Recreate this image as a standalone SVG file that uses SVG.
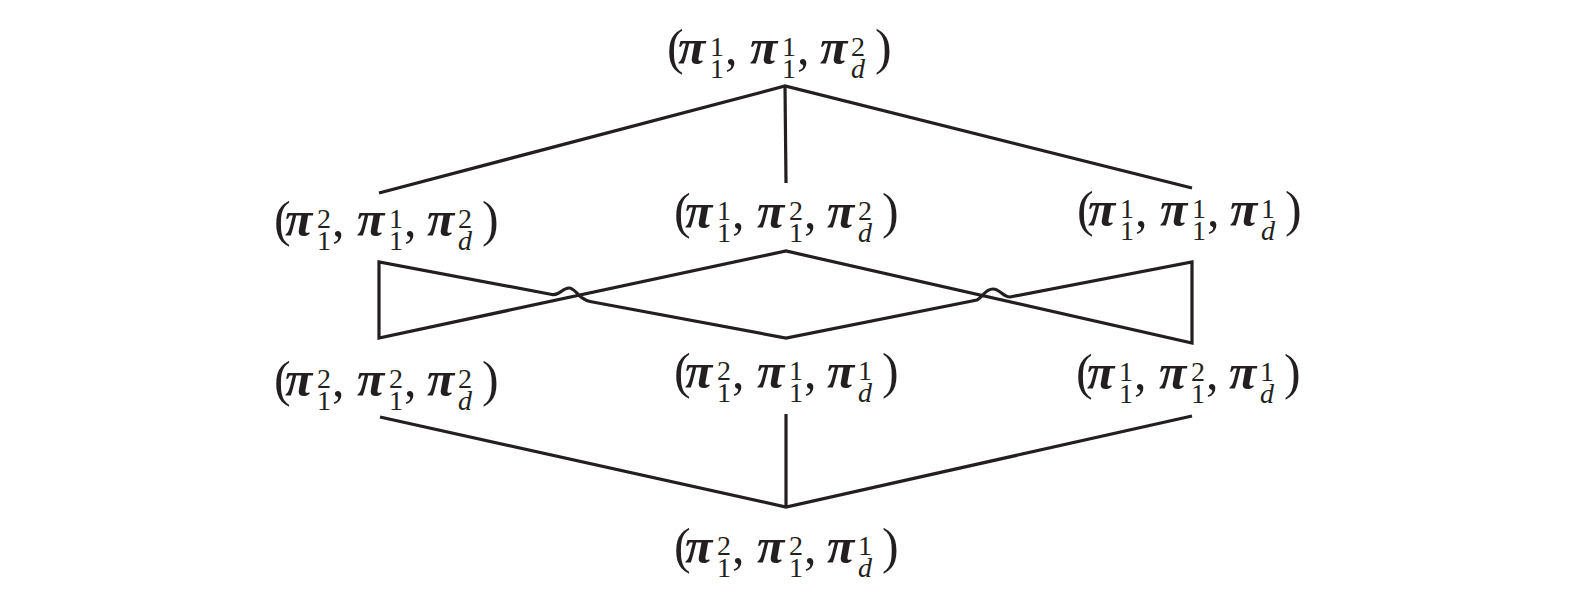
<svg xmlns="http://www.w3.org/2000/svg" width="1575" height="595" viewBox="0 0 1575 595">
<style>
text{font-family:"Liberation Serif","Times New Roman",serif;font-size:50px;fill:#231f20}
.pi{font-style:italic;font-weight:bold;font-size:50px}
.s{font-size:28px}
.d{font-size:28px;font-style:italic}
.c{fill:none;stroke:#231f20;stroke-width:3.2;stroke-linejoin:miter;stroke-linecap:butt}
</style>
<rect width="1575" height="595" fill="#fff"/>
<g id="connectors" class="c">
<path d="M379,193 L785,86 L1192,188"/>
<path d="M785,86 L786,183"/>
<path d="M379,262 L379,338 L786,251 L1192,343 L1192,262 L1010,297 C1003,297 1000,289 993,289 C985,289 983,297 977,300 L786,338 L590,301.5 C578,299 576,288 569,288 C562,288 560,296 552,294.5 Z"/>
<path d="M380,417 L786,507 L1192,416"/>
<path d="M786,414 L786,507"/>
</g>
<g id="n_top"><text><tspan x="667" y="64">(</tspan><tspan class="pi" x="678" y="64">π</tspan><tspan class="s" x="710" y="56">1</tspan><tspan class="s" x="710" y="78">1</tspan><tspan x="725" y="64">,</tspan><tspan class="pi" x="750" y="64">π</tspan><tspan class="s" x="782" y="56">1</tspan><tspan class="s" x="782" y="78">1</tspan><tspan x="797" y="64">,</tspan><tspan class="pi" x="820" y="64">π</tspan><tspan class="s" x="851" y="56">2</tspan><tspan class="d" x="851" y="78">d</tspan><tspan x="875" y="64">)</tspan></text></g>
<g id="n_r2_left"><text><tspan x="274" y="236">(</tspan><tspan class="pi" x="285" y="236">π</tspan><tspan class="s" x="317" y="228">2</tspan><tspan class="s" x="317" y="250">1</tspan><tspan x="332" y="236">,</tspan><tspan class="pi" x="357" y="236">π</tspan><tspan class="s" x="389" y="228">1</tspan><tspan class="s" x="389" y="250">1</tspan><tspan x="404" y="236">,</tspan><tspan class="pi" x="427" y="236">π</tspan><tspan class="s" x="458" y="228">2</tspan><tspan class="d" x="458" y="250">d</tspan><tspan x="482" y="236">)</tspan></text></g>
<g id="n_r2_mid"><text><tspan x="674" y="228">(</tspan><tspan class="pi" x="685" y="228">π</tspan><tspan class="s" x="717" y="220">1</tspan><tspan class="s" x="717" y="242">1</tspan><tspan x="732" y="228">,</tspan><tspan class="pi" x="757" y="228">π</tspan><tspan class="s" x="789" y="220">2</tspan><tspan class="s" x="789" y="242">1</tspan><tspan x="804" y="228">,</tspan><tspan class="pi" x="827" y="228">π</tspan><tspan class="s" x="858" y="220">2</tspan><tspan class="d" x="858" y="242">d</tspan><tspan x="882" y="228">)</tspan></text></g>
<g id="n_r2_right"><text><tspan x="1077" y="226">(</tspan><tspan class="pi" x="1088" y="226">π</tspan><tspan class="s" x="1120" y="218">1</tspan><tspan class="s" x="1120" y="240">1</tspan><tspan x="1135" y="226">,</tspan><tspan class="pi" x="1160" y="226">π</tspan><tspan class="s" x="1192" y="218">1</tspan><tspan class="s" x="1192" y="240">1</tspan><tspan x="1207" y="226">,</tspan><tspan class="pi" x="1230" y="226">π</tspan><tspan class="s" x="1261" y="218">1</tspan><tspan class="d" x="1261" y="240">d</tspan><tspan x="1285" y="226">)</tspan></text></g>
<g id="n_r3_left"><text><tspan x="274" y="396">(</tspan><tspan class="pi" x="285" y="396">π</tspan><tspan class="s" x="317" y="388">2</tspan><tspan class="s" x="317" y="410">1</tspan><tspan x="332" y="396">,</tspan><tspan class="pi" x="357" y="396">π</tspan><tspan class="s" x="389" y="388">2</tspan><tspan class="s" x="389" y="410">1</tspan><tspan x="404" y="396">,</tspan><tspan class="pi" x="427" y="396">π</tspan><tspan class="s" x="458" y="388">2</tspan><tspan class="d" x="458" y="410">d</tspan><tspan x="482" y="396">)</tspan></text></g>
<g id="n_r3_mid"><text><tspan x="674" y="388">(</tspan><tspan class="pi" x="685" y="388">π</tspan><tspan class="s" x="717" y="380">2</tspan><tspan class="s" x="717" y="402">1</tspan><tspan x="732" y="388">,</tspan><tspan class="pi" x="757" y="388">π</tspan><tspan class="s" x="789" y="380">1</tspan><tspan class="s" x="789" y="402">1</tspan><tspan x="804" y="388">,</tspan><tspan class="pi" x="827" y="388">π</tspan><tspan class="s" x="858" y="380">1</tspan><tspan class="d" x="858" y="402">d</tspan><tspan x="882" y="388">)</tspan></text></g>
<g id="n_r3_right"><text><tspan x="1076" y="389">(</tspan><tspan class="pi" x="1087" y="389">π</tspan><tspan class="s" x="1119" y="381">1</tspan><tspan class="s" x="1119" y="403">1</tspan><tspan x="1134" y="389">,</tspan><tspan class="pi" x="1159" y="389">π</tspan><tspan class="s" x="1191" y="381">2</tspan><tspan class="s" x="1191" y="403">1</tspan><tspan x="1206" y="389">,</tspan><tspan class="pi" x="1229" y="389">π</tspan><tspan class="s" x="1260" y="381">1</tspan><tspan class="d" x="1260" y="403">d</tspan><tspan x="1284" y="389">)</tspan></text></g>
<g id="n_bottom"><text><tspan x="674" y="563">(</tspan><tspan class="pi" x="685" y="563">π</tspan><tspan class="s" x="717" y="555">2</tspan><tspan class="s" x="717" y="577">1</tspan><tspan x="732" y="563">,</tspan><tspan class="pi" x="757" y="563">π</tspan><tspan class="s" x="789" y="555">2</tspan><tspan class="s" x="789" y="577">1</tspan><tspan x="804" y="563">,</tspan><tspan class="pi" x="827" y="563">π</tspan><tspan class="s" x="858" y="555">1</tspan><tspan class="d" x="858" y="577">d</tspan><tspan x="882" y="563">)</tspan></text></g>
</svg>
